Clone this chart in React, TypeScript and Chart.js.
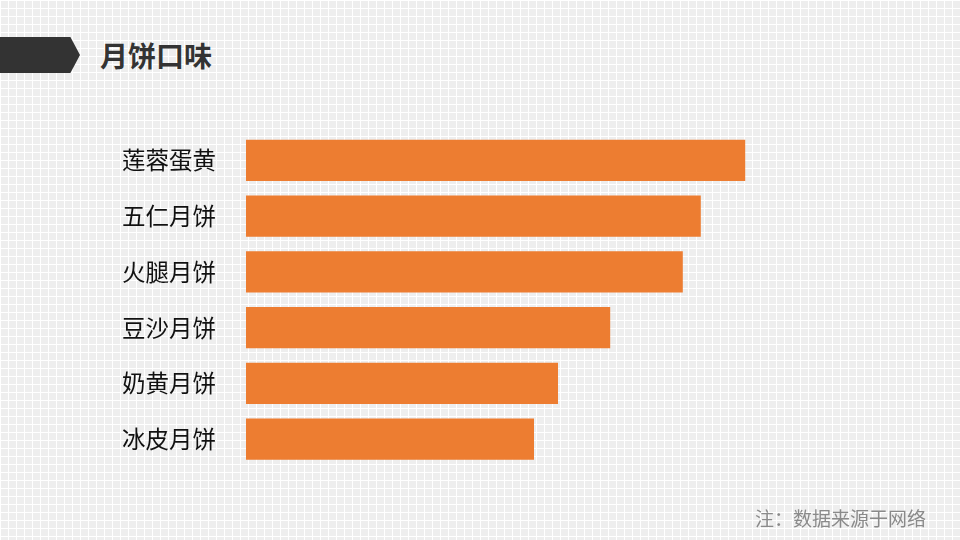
import { useEffect, useRef } from 'react';
import { Chart, ChartConfiguration, registerables } from 'chart.js';

Chart.register(...registerables);

const flavours = ['莲蓉蛋黄', '五仁月饼', '火腿月饼', '豆沙月饼', '奶黄月饼', '冰皮月饼'];
const scores = [83.2, 75.8, 72.8, 60.7, 52, 48];
const axisMax = 100;

const FONT = '"Noto Sans CJK SC", "Noto Sans", sans-serif';

export default function App() {
  const chartRef = useRef<HTMLCanvasElement>(null);
  const chartInstanceRef = useRef<Chart | null>(null);

  useEffect(() => {
    if (!chartRef.current) return;

    if (chartInstanceRef.current) {
      chartInstanceRef.current.destroy();
    }

    const ctx = chartRef.current.getContext('2d');
    if (!ctx) return;

    const config: ChartConfiguration<'bar'> = {
      type: 'bar',
      data: {
        labels: flavours,
        datasets: [
          {
            label: '月饼口味',
            data: scores,
            backgroundColor: '#ED7D31',
            borderWidth: 0,
            barPercentage: 0.74,
            categoryPercentage: 1
          }
        ]
      },
      options: {
        indexAxis: 'y',
        responsive: true,
        maintainAspectRatio: false,
        animation: false,
        layout: {
          padding: { top: 132.5, bottom: 73, right: 114, left: 0 }
        },
        plugins: {
          legend: { display: false },
          tooltip: { enabled: false }
        },
        scales: {
          x: {
            display: false,
            min: 0,
            max: axisMax
          },
          y: {
            grid: { display: false },
            border: { display: false },
            afterFit: (scale) => {
              scale.width = 246;
            },
            ticks: {
              color: '#111111',
              padding: 22,
              font: { family: FONT, size: 23.5 }
            }
          }
        }
      }
    };

    chartInstanceRef.current = new Chart(ctx, config);

    return () => {
      if (chartInstanceRef.current) {
        chartInstanceRef.current.destroy();
        chartInstanceRef.current = null;
      }
    };
  }, []);

  return (
    <div
      style={{
        position: 'fixed',
        left: 0,
        top: 0,
        width: 960,
        height: 540,
        overflow: 'hidden',
        fontFamily: FONT,
        backgroundColor: '#eeeeee',
        backgroundImage:
          'linear-gradient(to right, #ffffff 1px, transparent 1px), linear-gradient(to bottom, #ffffff 1px, transparent 1px)',
        backgroundSize: '8px 8px'
      }}
    >
      {/* title tab */}
      <div
        style={{
          position: 'absolute',
          left: 0,
          top: 37,
          width: 80,
          height: 36,
          background: '#333333',
          clipPath: 'polygon(0 0, 88% 0, 100% 50%, 88% 100%, 0 100%)'
        }}
      />
      <div
        style={{
          position: 'absolute',
          left: 100,
          top: 35,
          lineHeight: '40px',
          fontSize: 28,
          fontWeight: 'bold',
          color: '#333333'
        }}
      >
        月饼口味
      </div>
      <div style={{ position: 'absolute', left: 0, top: 0, width: 960, height: 540 }}>
        <canvas ref={chartRef} />
      </div>
      <div
        style={{
          position: 'absolute',
          right: 34,
          top: 504,
          lineHeight: '28px',
          fontSize: 19,
          color: '#8a8a8a'
        }}
      >
        注：数据来源于网络
      </div>
    </div>
  );
}
